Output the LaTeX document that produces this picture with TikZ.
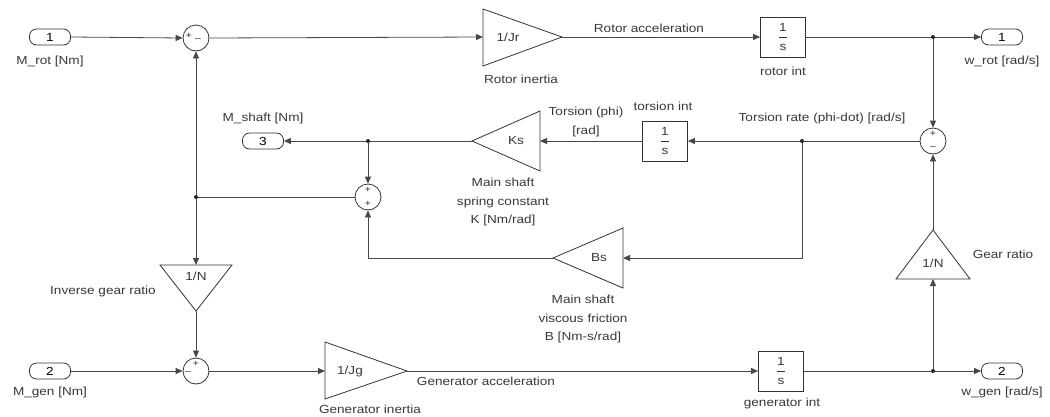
\documentclass[tikz,border=0pt]{standalone}
\usepackage{fontspec}
\setmainfont{Liberation Sans}[FakeStretch=1.16]
\usetikzlibrary{arrows.meta,calc}
\newcommand{\lblfont}{\fontsize{11.7}{18.5}\selectfont}
\newcommand{\sgnfont}{\fontsize{9}{10}\selectfont}
\begin{document}
\begin{tikzpicture}[x=1pt,y=-1pt,
 line/.style={draw=black!72, line width=0.8pt},
 arr/.style={line, -{Triangle[length=7pt,width=6pt]}},
 port/.style={draw=black!80, rounded corners=7pt, minimum width=41pt, minimum height=16pt, inner sep=0pt, line width=0.8pt, font=\lblfont},
 intbox/.style={draw=black!80, minimum width=45pt, minimum height=40pt, inner sep=0pt, line width=0.8pt},
 sumc/.style={draw=black!80, circle, minimum size=26pt, inner sep=0pt, line width=0.8pt},
 lbl/.style={font=\lblfont, text=black!78, inner sep=0pt, align=center},
 sgn/.style={font=\sgnfont, text=black!85, inner sep=0pt},
 jdot/.style={circle, fill=black!85, inner sep=0pt, minimum size=4pt},
 tri/.style={draw=black!80, line width=0.8pt, line join=miter},
]
\useasboundingbox (0,0) rectangle (1050,416);

% ports
\node[port] (in1) at (50,37) {1};
\node[port] (in2) at (50,371) {2};
\node[port] (out1) at (1002,37) {1};
\node[port] (out2) at (1002,371) {2};
\node[port] (out3) at (263,141) {3};
\node[lbl] (in1l) at (50,61) {M\_rot [Nm]};
\node[lbl] (in2l) at (50,392) {M\_gen [Nm]};
\node[lbl] (out1l) at (1002,61) {w\_rot [rad/s]};
\node[lbl] (out2l) at (1002,392) {w\_gen [rad/s]};
\node[lbl] (out3l) at (263,118) {M\_shaft [Nm]};

% sums
\node[sumc] (s1) at (196,38) {};
\node[sumc] (s2) at (368,197) {};
\node[sumc] (s3) at (933,141) {};
\node[sumc] (s4) at (196,371) {};
\node[sgn] (s1a) at (189,36) {+};
\node[sgn] (s1b) at (198,40) {\textendash};
\node[sgn] (s2a) at (368,190) {+};
\node[sgn] (s2b) at (368,204) {+};
\node[sgn] (s3a) at (933,134) {+};
\node[sgn] (s3b) at (933,148) {\textendash};
\node[sgn] (s4a) at (196,364) {+};
\node[sgn] (s4b) at (188,373) {\textendash};

% integrators
\node[intbox] (rint) at (783,37) {};
\node[intbox] (tint) at (665,141) {};
\node[intbox] (gint) at (781,371) {};
\foreach \b in {rint,tint,gint}{
  \node[lbl] (\b-num) at ($(\b.center)+(0,-10)$) {1};
  \draw[black!80, line width=0.6pt] ($(\b.center)+(-4,0)$) -- ($(\b.center)+(4,0)$);
  \node[lbl] (\b-den) at ($(\b.center)+(0,10)$) {s};
}
\node[lbl] (rintl) at (783,71) {rotor int};
\node[lbl] (tintl) at (663,106) {torsion int};
\node[lbl] (gintl) at (782,403) {generator int};

% gain triangles
\draw[tri] (483,9) -- (562,37) -- (483,66) -- cycle;
\coordinate (jrin) at (483,37); \coordinate (jrout) at (562,37);
\node[lbl] (jrt) at (508,37) {1/Jr};
\node[lbl] (jrl) at (521,79) {Rotor inertia};

\draw[tri] (540,111) -- (472,141) -- (540,171) -- cycle;
\coordinate (ksin) at (540,141); \coordinate (ksout) at (472,141);
\node[lbl] (kst) at (516,141) {Ks};
\node[lbl] (ksl) at (503,202) {Main shaft\\spring constant\\K [Nm/rad]};

\draw[tri] (623,228) -- (553,258) -- (623,288) -- cycle;
\coordinate (bsin) at (623,258); \coordinate (bsout) at (553,258);
\node[lbl] (bst) at (599,258) {Bs};
\node[lbl] (bsl) at (583,319) {Main shaft\\viscous friction\\B [Nm-s/rad]};

\draw[tri] (160,265) -- (232,265) -- (196,311) -- cycle;
\coordinate (ngin) at (196,265); \coordinate (ngout) at (196,311);
\node[lbl] (ngt) at (196,276) {1/N};
\node[lbl] (ngl) at (103,291) {Inverse gear ratio};

\draw[tri] (325,342) -- (407,371) -- (325,399) -- cycle;
\coordinate (jgin) at (325,371); \coordinate (jgout) at (407,371);
\node[lbl] (jgt) at (350,371) {1/Jg};
\node[lbl] (jgl) at (370,409) {Generator inertia};

\draw[tri] (896,279) -- (970,279) -- (933,230) -- cycle;
\coordinate (grin) at (933,279); \coordinate (grout) at (933,230);
\node[lbl] (grt) at (933,263) {1/N};
\node[lbl] (grl) at (1003,254) {Gear ratio};

% junctions
\coordinate (b1) at (933,37);
\coordinate (b2) at (802,141);
\coordinate (b3) at (368,141);
\coordinate (b4) at (196,197);
\coordinate (b5) at (933,371);
\coordinate (c1) at (802,258);
\coordinate (c2) at (368,258);

% connectors
\draw[arr] (in1.east) -- (s1.west);
\draw[arr] (s1.east) -- (jrin);
\draw[arr] (jrout) -- (rint.west);
\draw[line] (rint.east) -- (b1);
\draw[arr] (b1) -- (out1.west);
\draw[arr] (b1) -- (s3.north);
\draw[line] (s3.west) -- (b2);
\draw[arr] (b2) -- (tint.east);
\draw[arr] (tint.west) -- (ksin);
\draw[line] (ksout) -- (b3);
\draw[arr] (b3) -- (out3.east);
\draw[arr] (b3) -- (s2.north);
\draw[arr] (b2) -- (c1) -- (bsin);
\draw[arr] (bsout) -- (c2) -- (s2.south);
\draw[line] (s2.west) -- (b4);
\draw[arr] (b4) -- (s1.south);
\draw[arr] (b4) -- (ngin);
\draw[arr] (ngout) -- (s4.north);
\draw[arr] (in2.east) -- (s4.west);
\draw[arr] (s4.east) -- (jgin);
\draw[arr] (jgout) -- (gint.west);
\draw[line] (gint.east) -- (b5);
\draw[arr] (b5) -- (out2.west);
\draw[arr] (b5) -- (grin);
\draw[arr] (grout) -- (s3.south);

\foreach \j in {b1,b2,b3,b4,b5}{ \node[jdot] (\j-d) at (\j) {}; }

% signal labels
\node[lbl] (racc) at (649,28) {Rotor acceleration};
\node[lbl] (gacc) at (486,381) {Generator acceleration};
\node[lbl] (tors) at (586,122) {Torsion (phi)\\[-0pt]{}[rad]};
\node[lbl] (trate) at (822,118) {Torsion rate (phi-dot) [rad/s]};
\end{tikzpicture}
\end{document}
